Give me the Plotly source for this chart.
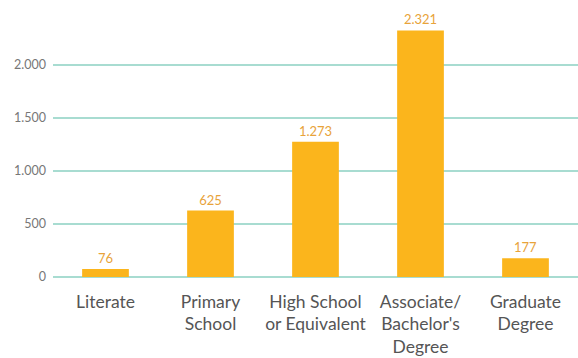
import plotly.graph_objects as go

categories = ["Literate", "Primary<br>School", "High School<br>or Equivalent",
              "Associate/<br>Bachelor's<br>Degree", "Graduate<br>Degree"]
values = [76, 625, 1273, 2321, 177]
y_ticks = [0, 500, 1000, 1500, 2000]

fig = go.Figure(go.Bar(
    x=categories,
    y=values,
    marker=dict(color="#FBB51C", line=dict(width=0)),
    texttemplate="%{y:,}",
    textposition="outside",
    cliponaxis=False,
    textfont=dict(family="Lato", size=13, color="#E8A33A"),
))

fig.update_layout(
    width=578, height=358,
    margin=dict(l=53, r=0, t=22, b=81),
    paper_bgcolor="white",
    plot_bgcolor="white",
    separators=",.",
    bargap=0.555,
    showlegend=False,
    font=dict(family="Lato", color="#555555"),
)
fig.update_xaxes(
    showgrid=False, showline=False, ticks="",
    ticklabelstandoff=12,
    tickfont=dict(size=17.5, color="#555555"),
)
fig.update_yaxes(
    range=[0, 2400],
    tickvals=y_ticks,
    tickformat=",",
    showgrid=True, gridcolor="#A8DCD1", gridwidth=2,
    zeroline=True, zerolinecolor="#A8DCD1", zerolinewidth=2,
    ticks="", ticklabelstandoff=6,
    tickfont=dict(size=12.5, color="#777777"),
)

fig.write_html("out.html")
